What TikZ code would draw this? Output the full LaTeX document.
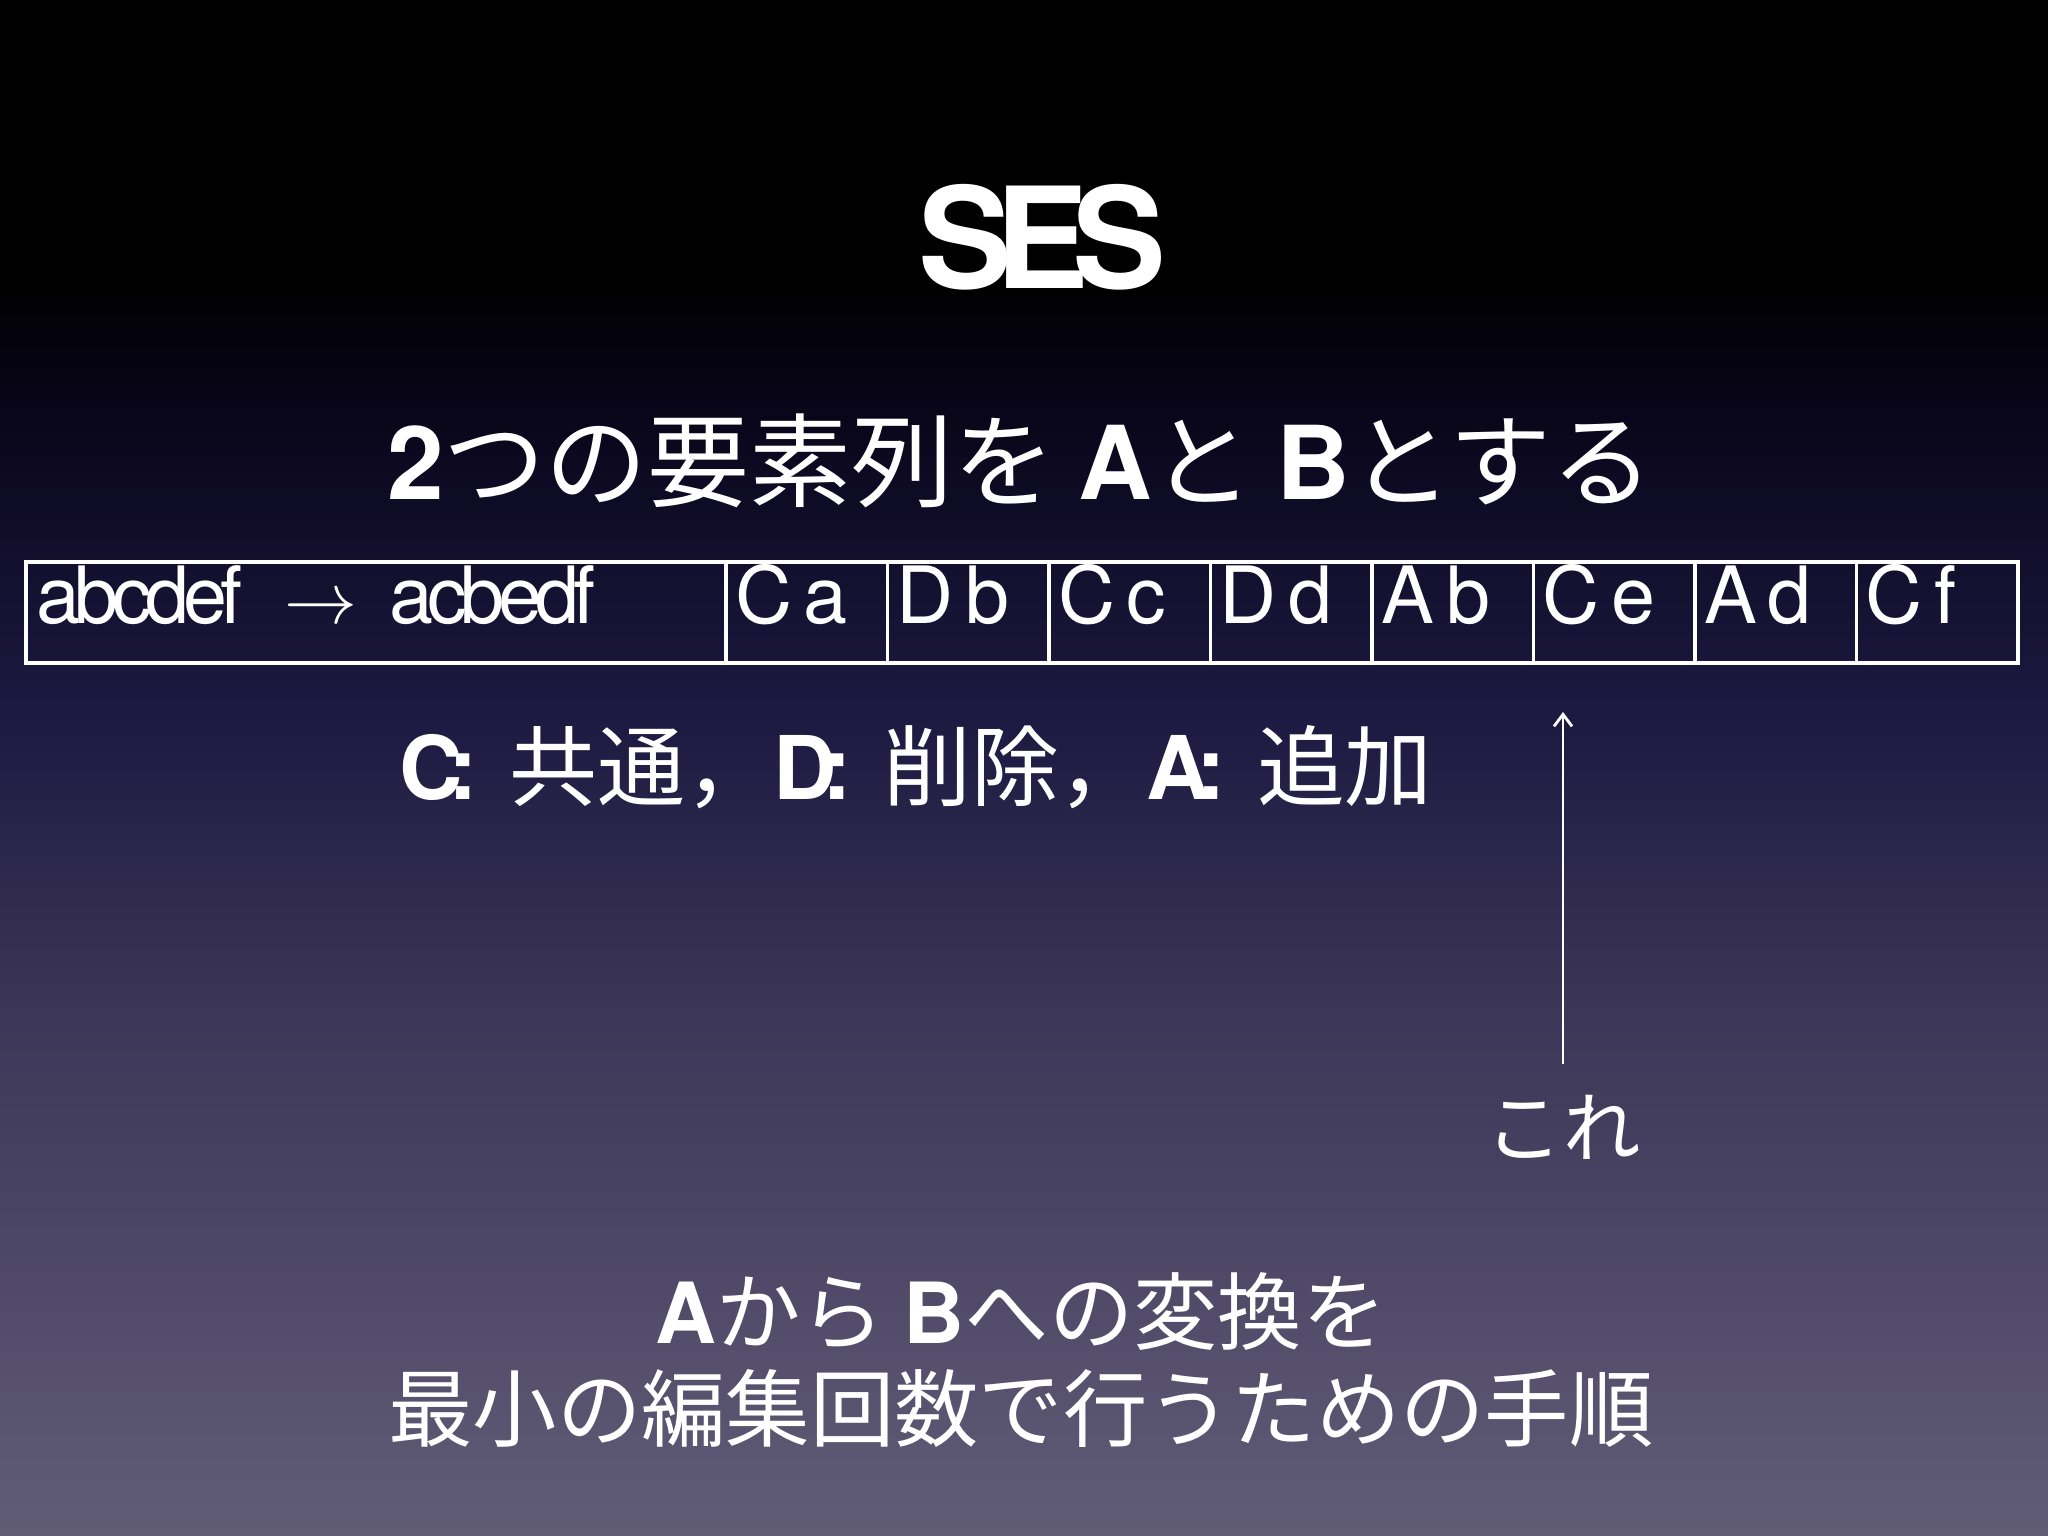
\documentclass[tikz,border=0pt]{standalone}
\usepackage{fontspec}
\setmainfont{TeX Gyre Heros}
\newfontfamily\jp{Noto Sans CJK JP}
\newcommand\bl[1]{{\rmfamily\bfseries #1}}
\usetikzlibrary{positioning,arrows.meta}
\definecolor{bgbot}{HTML}{615C76}
\definecolor{bglow}{HTML}{3C3658}
\definecolor{bgmid}{HTML}{1D1840}
\definecolor{bghigh}{HTML}{080518}
\pgfdeclareverticalshading{slidebg}{100bp}{color(0bp)=(bgbot); color(25bp)=(bgbot); color(42bp)=(bglow); color(52bp)=(bgmid); color(62bp)=(bghigh); color(66bp)=(black); color(100bp)=(black)}

\begin{document}
\begin{tikzpicture}
\tikzset{slidetext/.style = {text=white, inner sep=0pt, anchor=base}}
\tikzset{cell/.style = {draw=white, line width=1pt, outer sep=0pt, inner xsep=0.09cm, inner ysep=0pt, minimum height=1.01cm, text height=0.62cm, text depth=0.39cm, text width=1.435cm, align=left, text=white, font=\fontsize{22.5}{22.5}\selectfont\addfontfeature{LetterSpace=15}}}
\tikzset{pointer/.style = {-{Straight Barb[length=1.2mm, width=1.8mm]}, draw=white, line width=0.8pt}}
\useasboundingbox (0,0) rectangle (20.48,-15.36);
\shade[shading=slidebg] (0,0) rectangle (20.48,-15.36);
% title and premise
\node[slidetext, font=\fontsize{40}{40}\selectfont\bfseries\addfontfeature{LetterSpace=-12}] (title) at (10.42,-2.89) {SES};
\node[slidetext, font=\fontsize{29}{29}\selectfont] (given) at (10.20,-5.00) {\bl{2}\jp つの要素列を \bl{A}と \bl{B}とする};
% edit script
\node[cell, anchor=north west, text width=6.78cm, inner xsep=0.11cm, font=\fontsize{22.5}{22.5}\selectfont\addfontfeature{LetterSpace=-8}] (seq) at (0.26,-5.62) {abcdef\hspace{12pt}$\rightarrow$\hspace{9pt}acbedf};
\node[cell, right=0pt of seq] (op1) {Ca};
\node[cell, right=0pt of op1] (op2) {Db};
\node[cell, right=0pt of op2] (op3) {Cc};
\node[cell, right=0pt of op3] (op4) {Dd};
\node[cell, right=0pt of op4] (op5) {Ab};
\node[cell, right=0pt of op5] (op6) {Ce};
\node[cell, right=0pt of op6] (op7) {Ad};
\node[cell, right=0pt of op7] (op8) {Cf};
\node[slidetext, font=\fontsize{25}{25}\selectfont] (legend) at (9.16,-8.00) {\bl{C\kern-4pt:}\hspace{9pt}\jp 共通，\bl{D\kern-4pt:}\hspace{9pt}削除，\bl{A\kern-4pt:}\hspace{9pt}追加};
% pointer
\coordinate (tip) at (15.63,-7.12);
\node[slidetext, inner sep=0.30cm, font=\fontsize{22}{22}\selectfont\jp] (kore) at (15.63,-11.56) {これ};
\draw[pointer] (kore) to (tip);
% meaning
\node[slidetext, font=\fontsize{24}{24}\selectfont] (goal) at (10.21,-13.43) {\bl{A}\jp から \bl{B}への変換を};
\node[slidetext, font=\fontsize{24}{24}\selectfont\jp] (steps) at (10.21,-14.40) {最小の編集回数で行うための手順};
\end{tikzpicture}
\end{document}
